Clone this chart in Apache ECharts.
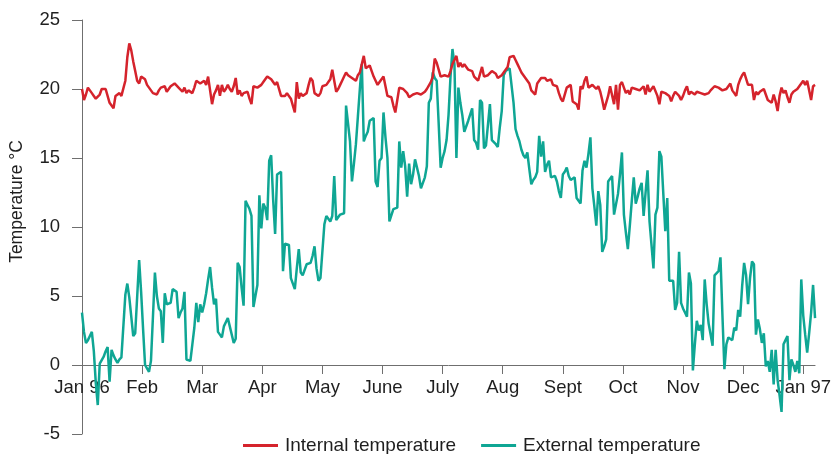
<!DOCTYPE html>
<html>
<head>
<meta charset="utf-8">
<script src="https://cdn.jsdelivr.net/npm/echarts@6/dist/echarts.min.js"></script>
<style>
  html, body { margin: 0; padding: 0; background: #ffffff; }
  #chart { width: 834px; height: 454px; }
</style>
</head>
<body>
<div id="chart"></div>
<script>
// Month boundaries along the day axis (equal month spacing) and their labels
const monthTicks = [0, 30.5, 61, 91.5, 122, 152.5, 183, 213.5, 244, 274.5, 305, 335.5, 366];
const monthLabels = ['Jan 96', 'Feb', 'Mar', 'Apr', 'May', 'June', 'July', 'Aug', 'Sept', 'Oct', 'Nov', 'Dec', 'Jan 97'];

// Temperature axis ticks
const tempMin = -5;
const tempMax = 25;
const tempStep = 5;

// Daily mean internal temperature, °C (1 Jan 1996 onwards)
const internalTemp = [
  20.0,19.2,19.6,20.1,19.9,19.7,19.5,19.3,19.3,19.6,
  20.0,20.0,20.0,19.9,19.0,18.8,18.6,19.5,19.6,19.7,
  19.5,19.6,20.6,22.3,23.3,22.8,22.0,21.3,20.6,20.4,
  20.9,21.0,20.7,20.3,20.1,19.9,19.7,19.6,19.6,19.9,
  20.1,20.1,20.2,19.8,20.0,20.2,20.3,20.4,20.5,20.1,
  20.2,19.8,20.1,19.7,19.9,20.0,19.7,20.1,20.6,20.7,
  20.4,20.5,20.6,20.3,20.9,19.9,18.9,19.6,19.9,20.3,
  19.5,20.3,19.8,20.0,20.3,20.0,19.8,20.2,20.8,19.6,
  19.9,19.5,19.7,19.8,19.8,19.3,18.9,20.2,20.1,20.1,
  20.2,20.3,20.5,20.6,20.9,21.0,20.7,20.5,20.3,20.5,
  20.6,19.5,19.5,19.5,19.7,19.5,19.3,18.8,18.3,20.5,
  19.3,19.7,19.5,19.4,19.7,20.3,20.8,20.6,19.7,19.6,
  19.5,19.7,20.2,20.2,20.3,20.5,20.7,21.4,21.4,19.8,
  20.0,20.3,20.6,20.9,21.2,21.0,20.9,20.8,20.7,20.6,
  21.0,21.2,21.8,22.4,21.5,21.6,21.7,21.3,20.9,20.6,
  20.3,20.5,20.6,20.9,20.2,19.5,19.5,19.4,18.8,18.3,
  19.2,20.1,20.0,20.0,19.9,19.7,19.4,19.5,19.6,19.6,
  19.7,19.7,19.6,19.5,19.8,20.0,20.1,20.5,20.9,22.2,
  21.9,21.4,20.9,20.9,21.0,20.9,20.9,21.3,21.8,22.1,
  22.4,21.6,21.9,21.6,21.8,21.6,21.4,21.3,21.3,20.9,
  20.8,20.6,21.1,21.6,20.9,20.8,21.0,21.1,21.3,21.2,
  21.1,20.8,20.9,21.0,21.2,21.3,21.6,22.3,22.3,22.4,
  22.1,21.8,21.5,21.2,21.0,20.8,20.6,20.4,19.9,19.8,
  19.6,20.4,20.6,20.8,20.7,20.8,20.6,20.7,20.7,20.3,
  20.2,20.2,19.7,19.3,19.1,19.0,20.1,20.2,20.3,19.1,
  19.0,18.9,18.5,20.2,20.0,20.6,20.9,20.1,20.2,20.3,
  20.2,20.0,20.2,19.8,19.2,18.5,18.5,19.5,20.2,20.1,
  18.9,20.3,18.5,20.3,20.5,20.6,19.7,19.9,19.6,20.1,
  20.0,20.0,19.9,19.9,19.8,20.2,19.6,20.3,19.8,19.9,
  20.2,20.1,19.5,18.9,19.8,19.8,19.7,19.8,19.5,19.1,
  19.5,19.8,19.8,19.5,19.2,19.5,19.9,20.2,19.6,19.8,
  19.8,19.6,19.8,19.7,19.7,19.6,19.6,19.6,19.7,19.9,
  20.0,20.2,20.3,20.1,20.0,19.9,19.9,20.0,20.1,20.4,
  19.9,19.7,19.5,20.3,20.7,21.0,21.2,21.3,20.3,20.2,
  20.3,19.2,19.8,19.6,19.8,19.9,20.0,19.6,19.2,19.1,
  19.0,19.6,19.1,18.4,19.5,20.1,19.7,19.9,19.4,19.0,
  19.6,19.8,19.9,20.0,20.2,20.4,20.6,20.3,20.6,20.5,
  19.2,20.2,20.3
];

// Daily mean external temperature, °C (1 Jan 1996 onwards)
const externalTemp = [
  3.8,2.4,1.6,1.8,2.1,2.4,1.0,-1.3,-2.9,0.1,
  0.1,0.6,1.0,1.3,-1.2,1.1,0.7,0.4,0.15,0.4,
  0.55,0.6,5.1,5.9,4.9,3.5,2.1,2.3,2.4,7.6,
  5.3,2.6,0.0,0.1,-0.5,0.3,3.5,6.7,5.0,4.1,
  3.9,1.6,5.2,4.4,4.5,4.5,5.5,5.4,5.3,3.4,
  3.8,4.1,5.3,0.4,0.35,0.3,1.5,2.7,4.5,3.1,
  4.4,3.8,4.4,5.2,6.2,7.1,5.6,4.4,4.8,2.4,
  2.2,2.0,2.8,2.9,3.4,2.8,2.7,1.6,1.9,7.4,
  7.1,5.6,4.3,11.9,11.6,11.3,10.8,4.2,5.0,5.8,
  12.3,9.9,11.7,11.4,10.5,14.8,15.2,12.0,9.5,13.8,
  13.9,14.0,6.8,8.8,8.7,8.7,6.3,5.9,5.5,7.0,
  8.4,6.7,6.5,6.4,7.3,7.3,7.4,7.9,8.6,7.0,
  6.1,6.3,6.4,10.2,10.8,10.6,10.4,10.8,13.7,10.5,
  10.4,10.9,10.9,11.0,18.8,17.5,16.2,13.3,14.6,16.0,
  18.0,20.0,21.8,16.2,16.6,16.9,17.7,17.8,17.9,13.3,
  12.9,14.8,15.0,18.3,16.5,15.0,10.4,10.4,11.3,11.4,
  11.4,16.2,14.3,15.5,14.4,12.2,14.6,13.1,13.8,14.9,
  14.3,13.7,12.8,13.2,13.6,14.4,19.0,19.3,21.2,20.8,
  20.6,17.5,14.3,15.0,15.5,16.3,18.1,20.9,22.9,21.8,
  15.0,20.1,19.0,18.1,16.9,17.3,17.7,17.6,18.6,16.3,
  16.1,15.6,19.2,19.0,15.7,15.9,17.4,18.9,16.3,16.2,
  16.0,15.8,17.2,18.4,21.0,21.3,21.4,21.5,21.6,19.0,
  17.1,16.6,16.2,15.6,15.2,15.0,15.4,14.2,13.1,13.4,
  13.6,14.0,16.6,15.1,16.2,14.0,14.5,14.8,13.6,13.6,
  13.7,13.3,12.6,12.1,13.8,14.0,14.3,13.7,13.4,13.5,
  13.6,12.1,11.9,11.7,14.1,14.8,14.3,15.3,16.5,12.8,
  11.5,10.1,12.6,11.6,8.2,8.6,9.1,13.3,13.5,13.7,
  10.9,10.9,12.4,13.8,15.4,10.9,9.6,8.4,10.1,11.9,
  13.6,11.7,12.2,12.8,13.2,10.8,12.5,14.1,10.4,8.7,
  7.0,10.9,11.4,15.5,15.1,12.4,9.7,12.1,6.1,6.1,
  6.1,4.0,4.5,8.2,4.5,4.1,3.8,3.5,6.7,5.9,
  -0.4,1.5,3.2,2.5,2.9,1.8,6.2,4.4,3.0,2.2,
  1.4,6.5,6.4,6.8,7.8,3.6,-0.3,1.5,2.0,2.1,
  1.8,2.7,2.5,4.0,3.5,5.7,7.4,6.5,4.4,6.3,
  7.5,7.3,2.2,3.3,2.6,1.6,2.3,-0.1,0.3,-0.5,
  1.1,-1.4,1.1,-1.1,-2.2,-3.4,1.5,1.8,2.1,-1.1,
  0.4,0.0,-0.5,0.3,-0.6,6.2,3.6,2.2,0.9,2.3,
  3.8,5.8,3.4
];

const seriesNames = ['Internal temperature', 'External temperature'];

const RED = '#d5232c';
const TEAL = '#0fa694';
const AXIS = '#6f6f6f';
const TEXT = '#1f1f1f';
const FONT = '"Liberation Sans", Arial, Helvetica, sans-serif';

// Plot box in pixels; the month axis is lifted to sit on the 0 °C line
const GRID_TOP = 20;
const GRID_BOTTOM = 20;
const GRID_HEIGHT = 454 - GRID_TOP - GRID_BOTTOM;
const zeroLift = GRID_HEIGHT * (0 - tempMin) / (tempMax - tempMin);

const chart = echarts.init(document.getElementById('chart'), null, { renderer: 'canvas' });

chart.setOption({
  animation: false,
  backgroundColor: '#ffffff',
  textStyle: { fontFamily: FONT },
  grid: { left: 82, right: 15, top: GRID_TOP, bottom: GRID_BOTTOM, containLabel: false },
  legend: {
    data: seriesNames,
    left: 238,
    top: 431,
    icon: 'rect',
    itemWidth: 35,
    itemHeight: 3,
    itemGap: 25,
    textStyle: { fontSize: 19, color: TEXT, fontFamily: FONT, padding: [0, 0, 0, 2] }
  },
  graphic: [{
    type: 'text',
    x: 17.5,
    y: 201.5,
    rotation: Math.PI / 2,
    style: {
      text: 'Temperature °C',
      fontSize: 17.5,
      fontFamily: FONT,
      fill: TEXT,
      align: 'center',
      verticalAlign: 'middle'
    }
  }],
  xAxis: {
    type: 'value',
    min: 0,
    max: internalTemp.length - 1,
    position: 'bottom',
    offset: -zeroLift,
    axisLine: { show: true, onZero: false, lineStyle: { color: AXIS, width: 1 } },
    axisTick: { show: true, customValues: monthTicks, length: 9, lineStyle: { color: AXIS, width: 1 } },
    axisLabel: {
      customValues: monthTicks,
      formatter: function (v) { return monthLabels[Math.round(v / 30.5)]; },
      fontSize: 18.5,
      color: TEXT,
      fontFamily: FONT,
      margin: 13
    },
    splitLine: { show: false }
  },
  yAxis: {
    type: 'value',
    min: tempMin,
    max: tempMax,
    interval: tempStep,
    axisLine: { show: true, onZero: false, lineStyle: { color: AXIS, width: 1 } },
    axisTick: { show: true, length: 10, lineStyle: { color: AXIS, width: 1 } },
    axisLabel: { fontSize: 18.5, color: TEXT, fontFamily: FONT, margin: 22 },
    splitLine: { show: false }
  },
  series: [
    {
      name: seriesNames[0],
      type: 'line',
      data: internalTemp.map(function (v, i) { return [i, v]; }),
      symbol: 'none',
      z: 3,
      lineStyle: { color: RED, width: 2.5 },
      itemStyle: { color: RED }
    },
    {
      name: seriesNames[1],
      type: 'line',
      data: externalTemp.map(function (v, i) { return [i, v]; }),
      symbol: 'none',
      z: 2,
      lineStyle: { color: TEAL, width: 2.5 },
      itemStyle: { color: TEAL }
    }
  ]
});
</script>
</body>
</html>
